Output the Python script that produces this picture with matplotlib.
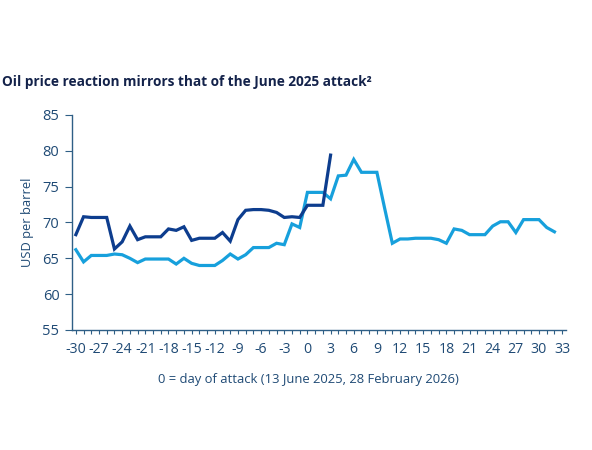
import matplotlib.pyplot as plt
from matplotlib.ticker import MultipleLocator

plt.rcParams["font.family"] = ["Open Sans", "DejaVu Sans"]
plt.rcParams["axes.unicode_minus"] = False

# days relative to attack (0 = day of attack)
days_2025 = list(range(-30, 4))
price_2025 = [68.3, 70.8, 70.7, 70.7, 70.7, 66.3, 67.3, 69.5, 67.6, 68.0,
              68.0, 68.0, 69.1, 68.9, 69.4, 67.5, 67.8, 67.8, 67.8, 68.6,
              67.4, 70.4, 71.7, 71.8, 71.8, 71.7, 71.4, 70.7, 70.8, 70.7,
              72.4, 72.4, 72.4, 79.4]

days_2026 = list(range(-30, 33))
price_2026 = [66.2, 64.5, 65.4, 65.4, 65.4, 65.6, 65.5, 65.0, 64.4, 64.9,
              64.9, 64.9, 64.9, 64.2, 65.0, 64.3, 64.0, 64.0, 64.0, 64.7,
              65.6, 64.9, 65.5, 66.5, 66.5, 66.5, 67.1, 66.9, 69.8, 69.3,
              74.2, 74.2, 74.2, 73.3, 76.5, 76.6, 78.8, 77.0, 77.0, 77.0,
              72.0, 67.1, 67.7, 67.7, 67.8, 67.8, 67.8, 67.6, 67.1, 69.1,
              68.9, 68.3, 68.3, 68.3, 69.5, 70.1, 70.1, 68.6, 70.4, 70.4,
              70.4, 69.3, 68.7]

DARK, LIGHT = "#0d3d8e", "#17a0dc"
AXIS, TEXT, TITLE = "#2f5f86", "#1f4a75", "#13224a"

fig = plt.figure(figsize=(5.92, 4.5), dpi=100)
ax = fig.add_axes([0.1216, 0.2667, 0.8345, 0.4778])

ax.plot(days_2026, price_2026, color=LIGHT, linewidth=2.3, solid_joinstyle="miter")
ax.plot(days_2025, price_2025, color=DARK, linewidth=2.3, solid_joinstyle="miter")

ax.set_xlim(-30.5, 33.5)
ax.set_ylim(55, 85)
ax.xaxis.set_major_locator(MultipleLocator(3))
ax.xaxis.set_minor_locator(MultipleLocator(1))
ax.yaxis.set_major_locator(MultipleLocator(5))

for side in ("top", "right"):
    ax.spines[side].set_visible(False)
for side in ("left", "bottom"):
    ax.spines[side].set_color(AXIS)
    ax.spines[side].set_linewidth(1.0)

ax.tick_params(axis="x", which="both", length=3, width=0.8, color=AXIS,
               labelsize=10.2, labelcolor=TEXT, pad=6)
ax.tick_params(axis="y", which="major", length=5, width=0.8, color=AXIS,
               labelsize=10.5, labelcolor=TEXT, pad=4)

ax.set_ylabel("USD per barrel", fontsize=9.3, color=TEXT, labelpad=6)
ax.set_xlabel("0 = day of attack (13 June 2025, 28 February 2026)",
              fontsize=9.4, color=TEXT, labelpad=11)
ax.xaxis.set_label_coords(0.479, -0.2)

fig.text(0.003, 0.817, "Oil price reaction mirrors that of the June 2025 attack²",
         fontsize=9.8, fontweight="bold", color=TITLE, va="center", ha="left")

fig.savefig("out.png", dpi=100, facecolor="white")
